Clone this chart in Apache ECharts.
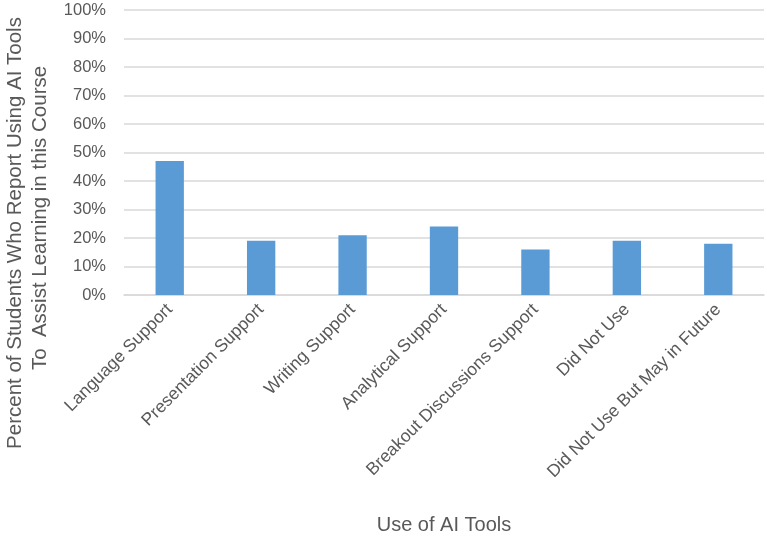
<!DOCTYPE html>
<html>
<head>
<meta charset="utf-8">
<script src="https://cdn.jsdelivr.net/npm/echarts@6/dist/echarts.min.js"></script>
<style>
  html, body { margin: 0; padding: 0; background: #fff; }
  #main { width: 767px; height: 538px; }
</style>
</head>
<body>
<div id="main"></div>
<script>
const categories = [
  'Language Support',
  'Presentation Support',
  'Writing Support',
  'Analytical Support',
  'Breakout Discussions Support',
  'Did Not Use',
  'Did Not Use But May in Future'
];
const percentUsing = [47, 19, 21, 24, 16, 19, 18];
const yTicks = { min: 0, max: 100, interval: 10 };
const yTitleLines = [
  'Percent of Students Who Report Using AI Tools',
  'To  Assist Learning in this Course'
];

const textColor = '#595959';
const font = 'Liberation Sans';

// y title sits lower than the plot centre in the original, so place each line by hand
function titleLine(text, x, y) {
  return {
    type: 'text',
    x: x,
    y: y,
    rotation: Math.PI / 2,
    style: {
      text: text,
      fill: textColor,
      font: '20.5px "Liberation Sans"',
      align: 'center',
      verticalAlign: 'middle'
    }
  };
}

const chart = echarts.init(document.getElementById('main'), null, { renderer: 'canvas' });

chart.setOption({
  animation: false,
  grid: { left: 124, right: 3, top: 10, bottom: 243, containLabel: false, outerBoundsMode: 'none' },
  graphic: [
    titleLine(yTitleLines[0], 15, 233),
    titleLine(yTitleLines[1], 40, 218)
  ],
  xAxis: {
    type: 'category',
    data: categories,
    name: 'Use of AI Tools',
    nameLocation: 'middle',
    nameGap: 220,
    nameTextStyle: { color: textColor, fontSize: 20, fontFamily: font },
    axisLine: { lineStyle: { color: '#d9d9d9', width: 1.5 } },
    axisTick: { show: false },
    axisLabel: {
      rotate: 45,
      interval: 0,
      margin: 12,
      color: textColor,
      fontSize: 17.5,
      fontFamily: font
    }
  },
  yAxis: {
    type: 'value',
    min: yTicks.min,
    max: yTicks.max,
    interval: yTicks.interval,
    axisLine: { show: false },
    axisTick: { show: false },
    axisLabel: {
      margin: 18,
      color: textColor,
      fontSize: 16.5,
      fontFamily: font,
      formatter: v => v + '%'
    },
    splitLine: { lineStyle: { color: '#d9d9d9', width: 1.5 } }
  },
  series: [{
    type: 'bar',
    data: percentUsing,
    barWidth: '31%',
    itemStyle: { color: '#5b9bd5' }
  }]
});
</script>
</body>
</html>
